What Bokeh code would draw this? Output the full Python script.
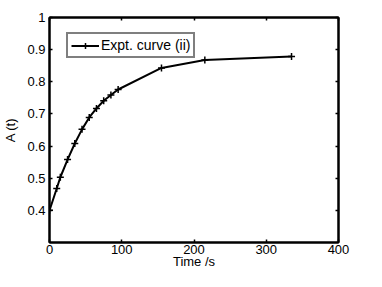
from bokeh.plotting import figure
from bokeh.models import (Range1d, FixedTicker, LinearAxis, CustomJSTickFormatter,
                          ColumnDataSource, Legend, LegendItem)
from bokeh.embed import file_html
from bokeh.resources import INLINE

# data
time_s = [0, 10, 15, 25, 35, 45, 55, 65, 75, 85, 95, 155, 215, 335]
absorb = [0.400, 0.468, 0.503, 0.558, 0.608, 0.652, 0.689, 0.717, 0.741, 0.759, 0.776, 0.843, 0.868, 0.879]
x_ticks = [0, 100, 200, 300, 400]
y_ticks = [0.4, 0.5, 0.6, 0.7, 0.8, 0.9, 1.0]
series_name = "Expt. curve (ii)"

FONT = "Liberation Sans"
FS = "13px"

p = figure(width=366, height=271, output_backend="svg", toolbar_location=None,
           x_range=Range1d(0, 400), y_range=Range1d(0.3, 1.0),
           min_border_left=42, min_border_right=28, min_border_top=17, min_border_bottom=29)

p.xgrid.visible = False
p.ygrid.visible = False
p.outline_line_color = "black"
p.outline_line_width = 2
p.background_fill_color = "white"
p.border_fill_color = "white"

fmt = CustomJSTickFormatter(code="return String(Math.round(tick*10)/10);")
blank = CustomJSTickFormatter(code="return '';")

def style(ax, labels=True):
    ax.axis_line_width = 2
    ax.axis_line_color = "black"
    ax.major_tick_in = 3
    ax.major_tick_out = 0
    ax.major_tick_line_width = 1.5
    ax.major_tick_line_color = "black"
    ax.minor_tick_line_color = None
    ax.major_label_text_font = FONT
    ax.major_label_text_font_size = FS
    ax.major_label_text_color = "black"
    ax.axis_label_text_font = FONT
    ax.axis_label_text_font_size = FS
    ax.axis_label_text_font_style = "normal"
    ax.axis_label_text_color = "black"
    if not labels:
        ax.formatter = blank
        ax.major_label_standoff = 0

xa = p.xaxis[0]
xa.ticker = FixedTicker(ticks=x_ticks)
xa.formatter = fmt
xa.axis_label = "Time /s"
style(xa)
xa.major_label_standoff = 2
xa.axis_label_standoff = -3

ya = p.yaxis[0]
ya.ticker = FixedTicker(ticks=y_ticks)
ya.formatter = fmt
ya.axis_label = "A (t)"
style(ya)
ya.major_label_standoff = 4
ya.axis_label_standoff = 6

top = LinearAxis(ticker=FixedTicker(ticks=x_ticks))
style(top, labels=False)
p.add_layout(top, "above")
right = LinearAxis(ticker=FixedTicker(ticks=y_ticks))
style(right, labels=False)
p.add_layout(right, "right")

src = ColumnDataSource(dict(t=time_s, a=absorb))
ln = p.line("t", "a", source=src, line_color="black", line_width=2)
mk = p.scatter("t", "a", source=src, marker="cross", size=7, line_color="black", line_width=1.5)

legend = Legend(items=[LegendItem(label=series_name, renderers=[ln, mk])],
                location=(17, 184), margin=0, padding=3,
                glyph_width=28, glyph_height=15, label_height=15, label_standoff=2,
                label_text_font=FONT, label_text_font_size="14px", label_text_color="black",
                border_line_color="black", border_line_width=2,
                background_fill_color="white", background_fill_alpha=1)
p.add_layout(legend, "center")

open("out.html", "w").write(file_html(p, INLINE))
